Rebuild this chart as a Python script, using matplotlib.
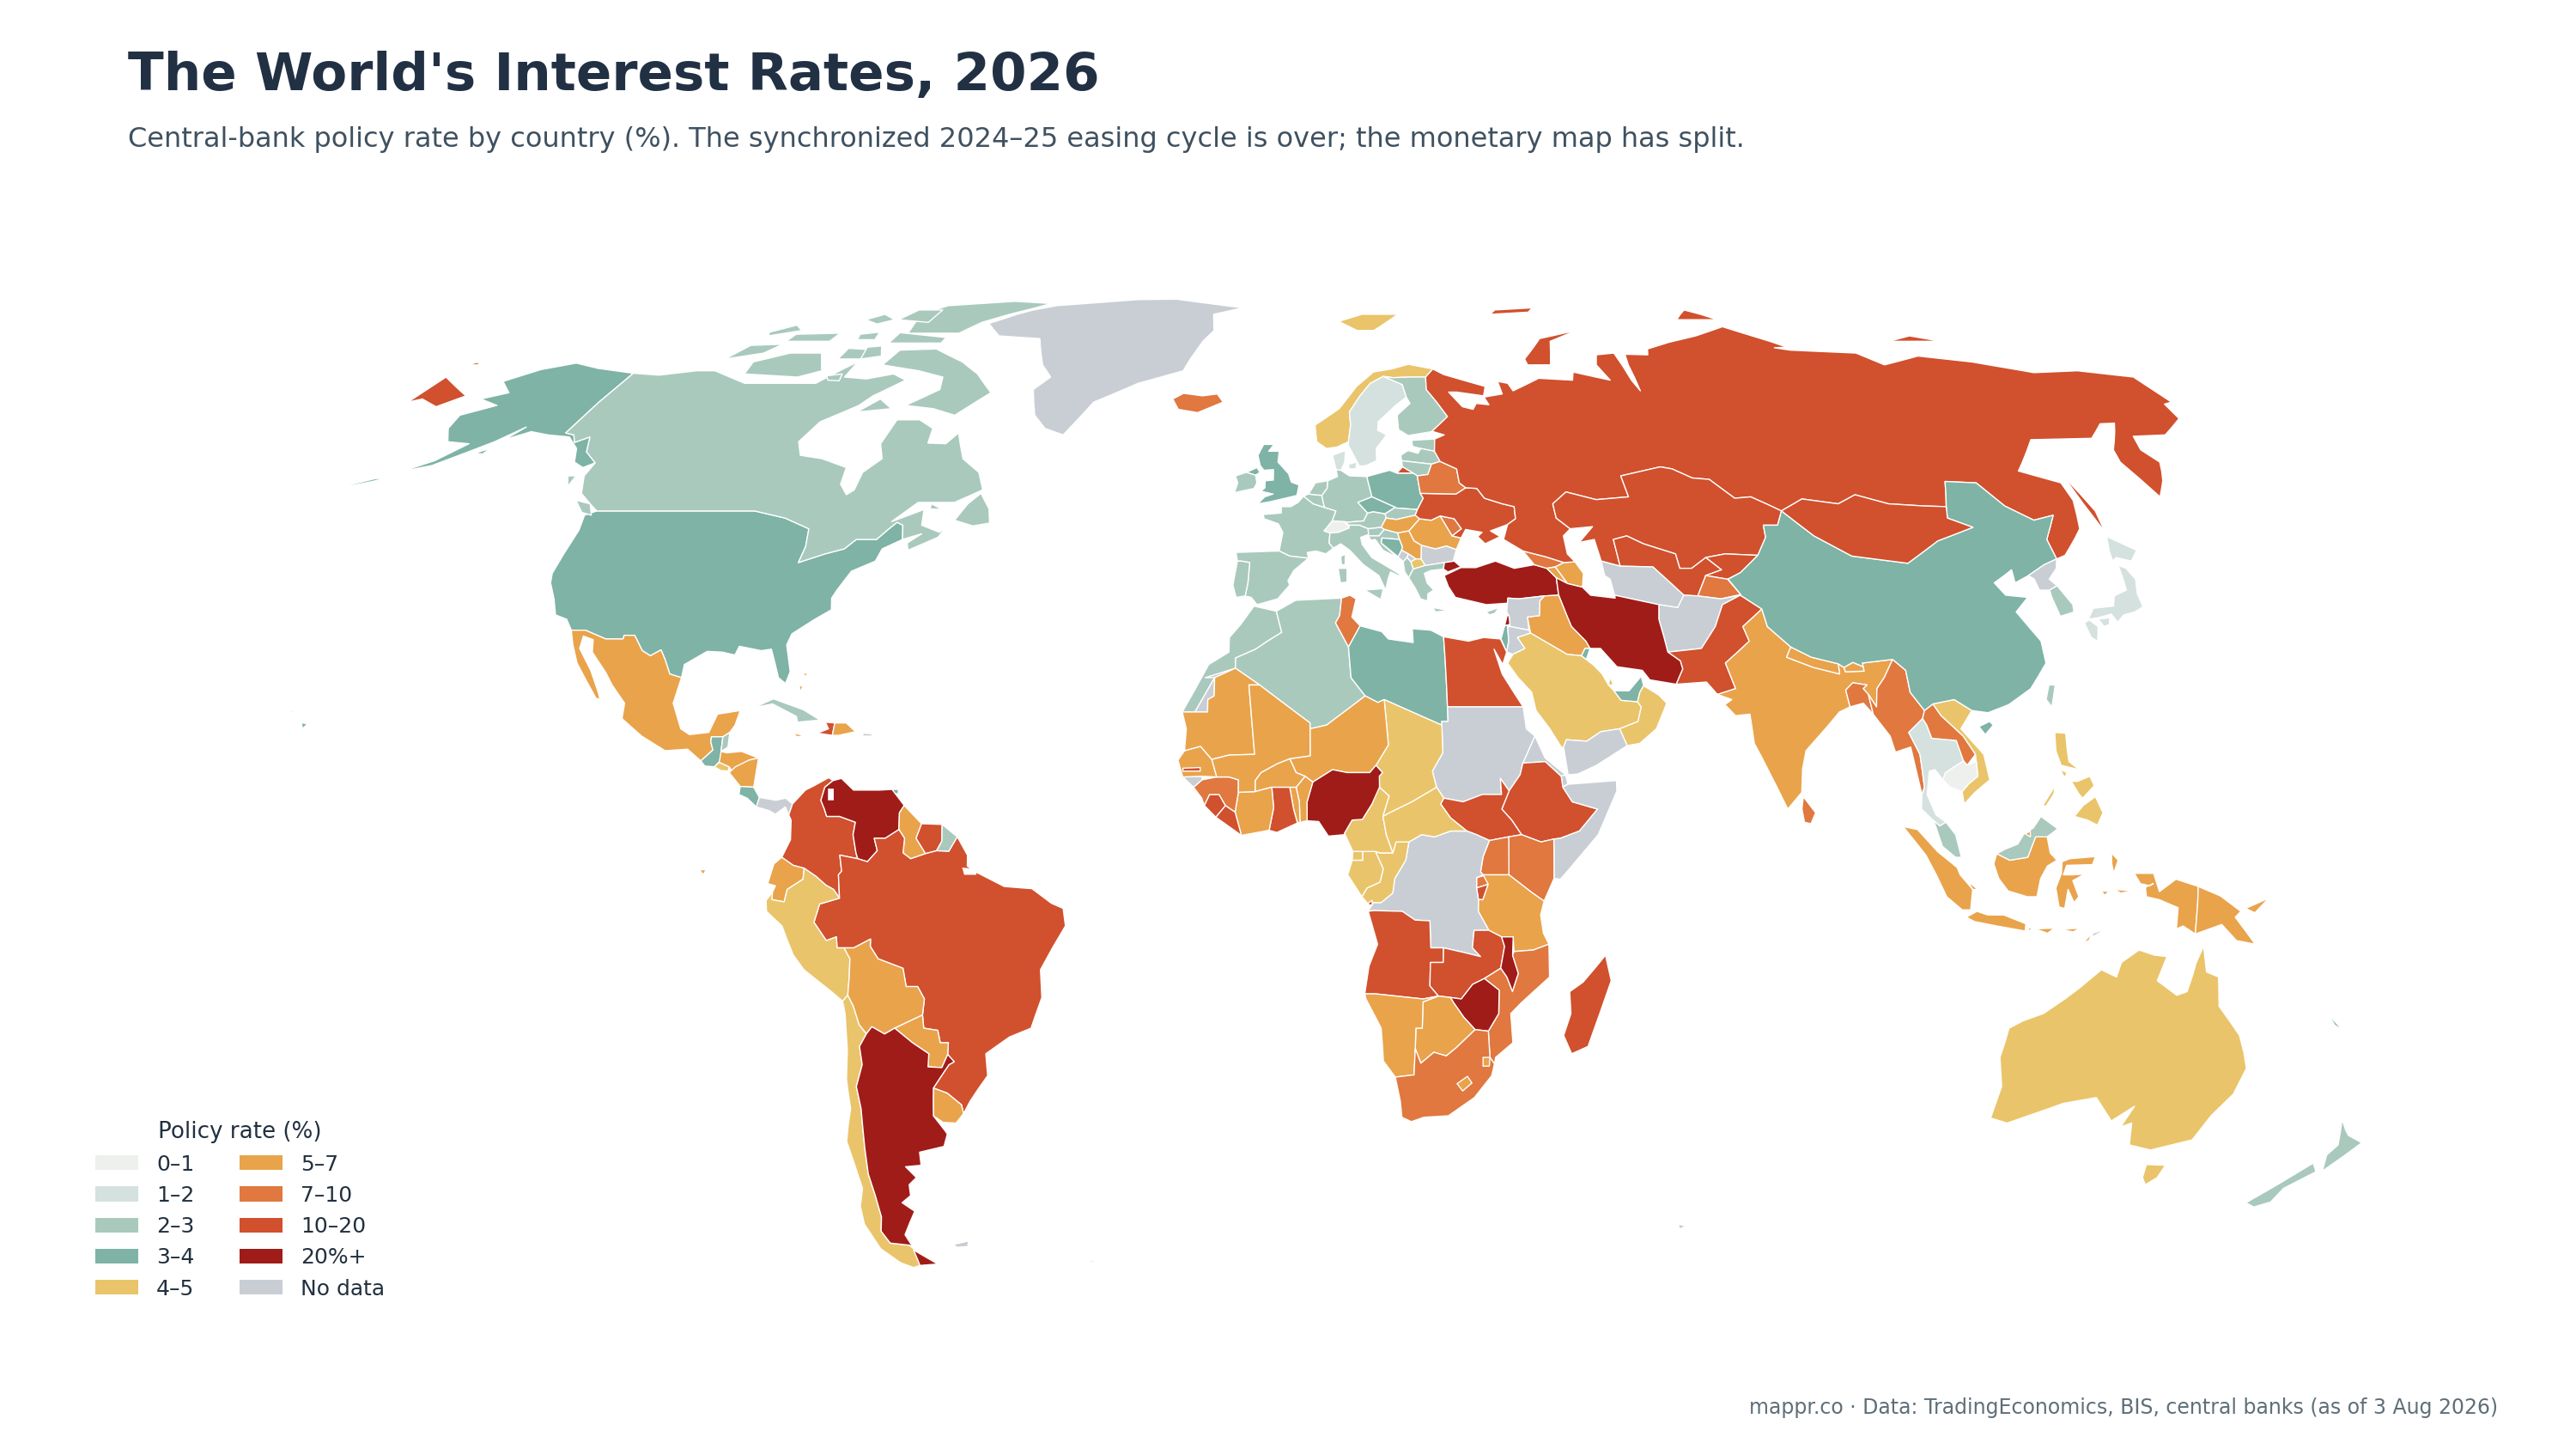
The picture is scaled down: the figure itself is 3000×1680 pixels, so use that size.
import numpy as np
import matplotlib
matplotlib.use("Agg")
import matplotlib.pyplot as plt
from matplotlib.patches import Patch

TITLE = "The World's Interest Rates, 2026"
SUBTITLE = "Central-bank policy rate by country (%). The synchronized 2024–25 easing cycle is over; the monetary map has split."
FOOTER = "mappr.co · Data: TradingEconomics, BIS, central banks (as of 3 Aug 2026)"
LEGEND_TITLE = "Policy rate (%)"
BIN_LABELS = ["0–1", "1–2", "2–3", "3–4", "4–5", "5–7", "7–10", "10–20", "20%+", "No data"]
BIN_COLORS = ["#eef0ed", "#d4e1de", "#a9c9bd", "#7eb3a6", "#eac46a", "#e9a34b", "#e0783f", "#d1502d", "#a01c18", "#c8ced4"]

BIN_0_1 = ["Switzerland", "Cambodia"]
BIN_1_2 = ["Sweden", "Denmark", "Thailand", "Japan"]
BIN_2_3 = ["Canada", "France", "Germany", "Spain", "Portugal", "Belgium", "Netherlands", "Austria", "Slovakia",
           "Slovenia", "Croatia", "Greece", "Finland", "Estonia", "Latvia", "Lithuania", "Ireland", "Cyprus", "Italy",
           "Albania", "Algeria", "Morocco", "Taiwan", "South Korea", "Malaysia", "Belize", "Cuba", "New Zealand",
           "French Guiana"]
BIN_3_4 = ["USA", "China", "UK", "Poland", "Czechia", "Libya", "Bosnia", "Guatemala", "Costa Rica", "Trinidad",
           "UAE", "Kuwait", "Israel", "New Caledonia"]
BIN_4_5 = ["Norway", "Saudi Arabia", "Oman", "Qatar", "Chad", "Cameroon", "CAR", "Gabon", "Congo", "Eq Guinea", "Peru",
           "Chile", "Vietnam", "Philippines", "Australia", "North Macedonia", "El Salvador"]
BIN_5_7 = ["Mexico", "Honduras", "Nicaragua", "Dominican Rep", "Jamaica", "Bahamas", "Guyana", "Ecuador", "Bolivia",
           "Paraguay", "Uruguay", "Mauritania", "Mali", "Niger", "Burkina Faso", "Senegal", "Ivory Coast", "Togo",
           "Benin", "Tanzania", "Namibia", "Botswana", "India", "Nepal", "Bhutan", "Indonesia", "PNG", "Hungary",
           "Romania", "Serbia", "Iraq", "Armenia", "Azerbaijan", "Lesotho", "Eswatini", "Brunei"]
BIN_7_10 = ["Iceland", "Belarus", "Moldova", "Georgia", "Tunisia", "South Africa", "Mozambique", "Uganda", "Kenya",
            "Rwanda", "Guinea", "Myanmar", "Laos", "Bangladesh", "Sri Lanka", "Tajikistan"]
BIN_10_20 = ["Russia", "Ukraine", "Kazakhstan", "Uzbekistan", "Kyrgyzstan", "Pakistan", "Egypt", "South Sudan", "Ethiopia",
             "Ghana", "Sierra Leone", "Liberia", "Angola", "Zambia", "Madagascar", "Colombia", "Brazil", "Haiti",
             "Suriname", "Burundi", "Mongolia", "Gambia"]
BIN_20_PLUS = ["Turkey", "Iran", "Nigeria", "Venezuela", "Argentina", "Zimbabwe", "Malawi", "Lebanon"]
BIN_NO_DATA = ["Greenland", "Sudan", "Eritrea", "Djibouti", "Somalia", "DRC", "Yemen", "Syria", "Jordan", "Afghanistan",
               "Turkmenistan", "Bulgaria", "Kosovo", "Montenegro", "North Korea", "Panama", "Western Sahara",
               "Guinea-Bissau", "Puerto Rico", "Falklands", "Timor-Leste", "South Georgia", "Kerguelen"]
BINS = [BIN_0_1, BIN_1_2, BIN_2_3, BIN_3_4, BIN_4_5, BIN_5_7, BIN_7_10, BIN_10_20, BIN_20_PLUS, BIN_NO_DATA]

# Country outlines, lon,lat pairs read by eye
SHAPES = {
"USA": ["-124.7,48.4 -123,49 -95,49 -89,48 -84,46.5 -83.3,44 -83.5,41.8 -79.5,43 -76.5,43.7 -75,45 -71.5,45 -70,46.5 -69,47.4 -67.8,47 -67,45 -70,43.7 -70.5,42 -74,40.6 -75.5,38 -76,36.9 -75.5,35.3 -78,33.9 -81,32 -81.4,30.5 -80,26.8 -80.4,25.2 -81.7,26 -82.7,28 -83.7,29.9 -85.3,29.7 -89,30.3 -89.4,29.1 -91.5,29.5 -94,29.6 -97.2,27.8 -97.2,26 -99.2,26.5 -100.5,28.5 -101.5,29.8 -103,29 -104.5,29.7 -106.5,31.8 -108.2,31.8 -108.2,31.3 -111,31.3 -114.8,32.5 -117.1,32.5 -118.5,34 -120.6,34.6 -122,36.8 -123.8,39 -124.3,40.3 -124.2,43 -124,46.3",
 "-141,69.6 -141,60.3 -139,60 -137.5,58.9 -135.5,59.7 -133.5,57.5 -130,55.9 -131.5,55.2 -134,56 -136,58 -139.5,59.7 -144,60 -148,60.5 -151.5,59.3 -150,61.2 -153,59 -156,57.5 -160,55.5 -164.5,54.6 -160.5,56.2 -157.5,58.7 -162,59 -165,61 -166,63 -161,64.5 -166,65.5 -162,66.5 -166.5,68.3 -162,70.2 -156.5,71.3 -150,70.4",
 "-156,19.8 -155,19.7 -155.6,19", "-158.2,21.6 -157.7,21.4 -158,21.2", "-173,52.2 -168,53.2 -166,53.7 -168,53.6 -172,52.6", "-178,51.7 -174,52 -172,52.3 -176,51.9", "-154.5,57.3 -152.5,58 -152.8,57.2"],
"Canada": ["-141,69.6 -135,69.3 -128,70 -124,70 -115,68 -108,68 -100,68 -95,71.5 -95,69 -90,68.7 -85,69.5 -81.5,68.5 -86,66 -87.5,64.5 -93,62 -94.5,59 -92.5,57 -88,56.5 -82.5,55.2 -82,52.8 -80,51.3 -79,52 -79,54.5 -76.7,56.5 -78.5,58.7 -78,62.3 -73.5,62.3 -70,61 -69.5,58.8 -66,58.7 -64.5,60.3 -61.5,56.5 -57.5,54.5 -55.7,52 -60,50.2 -66.5,50.2 -70,47.5 -65,49.2 -64.5,47 -61,46 -60,46.8 -61,45.3 -65.5,43.5 -66,44.5 -64,45.8 -67,45 -67.8,47 -69,47.4 -70,46.5 -71.5,45 -75,45 -76.5,43.7 -79.5,43 -83.5,41.8 -83.3,44 -84,46.5 -89,48 -95,49 -123,49 -125,50 -128,51.5 -130,54 -130,55.9 -133.5,57.5 -135.5,59.7 -137.5,58.9 -139,60 -141,60.3",
 "-62,66.5 -67,63 -72,64 -78,64.5 -73,67 -74,69 -80,70 -89,71 -88,73.5 -80,73.7 -72,71.5 -67,69.5", "-117,69.5 -105,69 -101,70 -105,73 -112,73 -118,71.5",
 "-125,72 -118,73 -116,74.5 -123,74.3", "-90,76.5 -78,76.5 -75,78.5 -65,81.5 -62,82.5 -72,83 -88,82 -92,80", "-92,74.7 -80,74.7 -80,75.7 -92,76.6",
 "-96,79 -88,78.5 -88,81 -94,81", "-116,75 -106,75 -106,76.5 -116,76.3", "-59,47.7 -55.5,46.9 -52.7,47.3 -53.5,49.3 -55.8,51.5 -57.5,50",
 "-87,63.5 -80.5,64 -84,65.5", "-100,73.8 -93,73.5 -95,72 -100,72", "-128,50.5 -125,50 -123.5,48.4 -125.5,48.8", "-122,76 -116,77 -119,78 -123,76.7",
 "-104,79 -100,78.2 -97,79 -101,80", "-133,54 -131.5,54 -131.5,52.5", "-96,74 -93,74.2 -91,72.5 -95,72", "-101,76.3 -97,76.7 -96,75.3 -100,75.3", "-99,69.2 -96,69.5 -95.5,68.4 -98,68.5", "-64,50 -61.8,49.2 -64,49.3"],
"Greenland": ["-73,78.3 -68,76 -58,75.5 -54,71 -51,69 -53.5,67 -51,63 -48,61 -44,60 -42,62.5 -40,65 -32,68 -23,70 -22,72 -20,75 -18,77 -19,80 -12,81.5 -30,83.5 -40,83.4 -60,82 -65,81 -68,80"],
"Mexico": ["-117.1,32.5 -114.8,32.5 -111,31.3 -108.2,31.3 -108.2,31.8 -106.5,31.8 -104.5,29.7 -103,29 -101.5,29.8 -100.5,28.5 -99.2,26.5 -97.2,26 -97.8,22.5 -96,19 -94.5,18.2 -91.5,18.5 -90.5,21 -87,21.5 -87.5,19.5 -88.2,18.5 -89.2,17.9 -91,17.9 -91,17.2 -90.5,16.1 -92.2,14.6 -94.5,16.2 -98,16 -102,18 -105.5,20.4 -105.5,22.5 -108,25 -109.5,26.7 -112.5,29.5 -113,31.2 -114.8,31.7 -114.7,30 -112,27 -110,24 -109.5,23 -110.2,23.2 -112.2,25.5 -114.5,28 -116,30.5"],
"Guatemala": ["-92.2,14.6 -90.5,16.1 -91,17.2 -91,17.9 -89.2,17.9 -89.2,15.9 -88.3,15.7 -89.3,14.5 -90,13.8 -91.5,13.9"],
"Belize": ["-89.2,17.9 -88.2,18.5 -88.2,16.5 -89.2,15.9"],
"El Salvador": ["-90,13.8 -89.3,14.4 -87.7,13.8 -87.8,13.2 -89,13.3"],
"Honduras": ["-89.2,15.9 -88.3,15.7 -86,15.9 -83.2,15 -84.7,14.7 -87,13 -87.7,13.8 -89.3,14.4"],
"Nicaragua": ["-87.6,13 -86.7,13.8 -84.7,14.7 -83.2,15 -83.6,11 -85.7,11.1"],
"Costa Rica": ["-85.7,11.1 -83.6,11 -82.6,9.6 -83,8.3 -84.5,9.5 -85.8,10"],
"Panama": ["-83,8.3 -82.6,9.6 -80,9.2 -78.5,9.5 -77.4,8.7 -77.9,7.2 -78.5,8.3 -80,7.3 -81,7.8 -81.8,8"],
"Cuba": ["-84.9,21.9 -82,23.1 -77,21.6 -74.2,20.2 -77.7,19.9 -78,20.7 -82,22.4"],
"Haiti": ["-74.4,18.4 -72,18.1 -71.8,19.8 -73.3,19.9 -72.7,19"],
"Dominican Rep": ["-71.8,19.8 -70,19.8 -68.4,18.6 -71,18.1 -72,18.1"],
"Jamaica": ["-78.3,18.4 -76.3,18.1 -77.5,17.9"], "Puerto Rico": ["-67.2,18.4 -65.7,18.3 -65.8,18 -67.2,18"],
"Bahamas": ["-78,26.7 -77,26.5 -77.5,26.2", "-78.2,25 -77.6,24.8 -77.8,24"], "Trinidad": ["-61.9,10.7 -61,10.7 -61,10.1 -61.9,10.1"],
"Colombia": ["-77.4,8.7 -75.5,10.6 -74.2,11.2 -72,12.3 -71.3,11.9 -72.5,11 -73,9.2 -72.4,8 -72,7 -70,7 -67.5,6.2 -67.8,4.5 -67.3,2 -67,1.2 -69.8,1.7 -69.5,-0.5 -70,-1 -69.9,-4.2 -70.8,-3 -72,-2.4 -73.5,-1.2 -75.3,-0.1 -77,0.3 -78.8,1.4 -77.5,3.8 -77.5,6.5 -77.9,7.2"],
"Venezuela": ["-71.3,11.9 -70,12.2 -68,10.6 -64,10.6 -62,10.7 -60,8.5 -60.7,7.5 -60.7,5.2 -62.8,4 -64.5,4 -64,2.3 -65.5,0.8 -67,1.2 -67.3,2 -67.8,4.5 -67.5,6.2 -70,7 -72,7 -72.4,8 -73,9.2 -72.5,11"],
"Guyana": ["-60,8.5 -57.2,6 -58,4 -56.5,1.9 -58.8,1.2 -60,2 -59.8,4 -60.7,5.2 -60.7,7.5"],
"Suriname": ["-57.2,6 -54,5.9 -54,3.6 -54.8,2.3 -56.5,1.9 -58,4"],
"French Guiana": ["-54,5.9 -51.6,4.2 -52.9,2.2 -54.8,2.3 -54,3.6"],
"Brazil": ["-51.6,4.2 -50,1.7 -50,0.2 -48.5,-0.7 -44.3,-2.6 -40,-2.9 -37,-4.9 -35.2,-5.6 -34.9,-8 -37,-11 -39,-14 -39,-17.8 -41,-22 -44.5,-23.2 -48.5,-25.5 -48.6,-28.5 -52,-32 -53.4,-33.7 -53.5,-32.5 -55.5,-30.9 -57.6,-30.2 -54.6,-27 -53.7,-26.6 -54.6,-25.6 -54.3,-24 -55.6,-24 -55.8,-22.3 -58,-22 -58,-20.2 -57.5,-18 -58.4,-16.3 -60.2,-16.3 -60.5,-13.8 -64.3,-12.5 -65.4,-10.8 -65.3,-9.8 -68,-11 -69.5,-11 -70.6,-11 -70.6,-9.5 -72.2,-10 -74,-7.5 -73,-5 -69.9,-4.2 -70,-1 -69.5,-0.5 -69.8,1.7 -67,1.2 -65.5,0.8 -64,2.3 -64.5,4 -62.8,4 -60.7,5.2 -59.8,4 -60,2 -58.8,1.2 -56.5,1.9 -54.8,2.3 -52.9,2.2"],
"Ecuador": ["-80,0.5 -78.8,1.4 -77,0.3 -75.3,-0.1 -75.5,-1.6 -78,-3 -78.5,-4.7 -80.4,-4.4 -80.3,-3.4 -79.8,-2.5 -81,-2.2", "-91.5,-0.3 -90.5,-0.3 -91,-1"],
"Peru": ["-80.3,-3.4 -80.4,-4.4 -78.5,-4.7 -78,-3 -75.5,-1.6 -75.3,-0.1 -73.5,-1.2 -72,-2.4 -70.8,-3 -69.9,-4.2 -73,-5 -74,-7.5 -72.2,-10 -70.6,-9.5 -70.6,-11 -69.5,-11 -68.7,-12.5 -69,-15 -69.5,-17.5 -70.4,-18.3 -72,-17 -76,-14 -77.5,-12 -79,-8 -81.3,-6 -81.3,-4.5"],
"Bolivia": ["-69.5,-11 -68,-11 -65.3,-9.8 -65.4,-10.8 -64.3,-12.5 -60.5,-13.8 -60.2,-16.3 -58.4,-16.3 -57.5,-18 -58,-20.2 -62.6,-22 -64.3,-22.8 -66.2,-21.8 -67.2,-22.8 -68.2,-21.5 -68.8,-19 -69.5,-17.5 -69,-15 -68.7,-12.5"],
"Paraguay": ["-58,-20.2 -58,-22 -55.8,-22.3 -55.6,-24 -54.3,-24 -54.6,-25.6 -55.8,-27.4 -58,-27.3 -57.6,-25.5 -60,-24 -62.6,-22"],
"Uruguay": ["-57.6,-30.2 -55.5,-30.9 -53.5,-32.5 -53.4,-33.7 -54.9,-35 -57,-34.9 -58.4,-34 -58,-32"],
"Chile": ["-70.4,-18.3 -69.5,-17.5 -68.8,-19 -68.2,-21.5 -67.2,-22.8 -68.5,-24.5 -68.5,-27 -70,-30 -70,-33 -70.5,-36 -71,-38.5 -71.7,-42 -71.7,-45 -72,-48 -73,-50 -72.3,-51.7 -69,-52 -68.5,-52.5 -68.6,-54.9 -70,-55.2 -72,-54.5 -74.5,-52.5 -75.5,-49 -75,-46.5 -73.5,-44 -73.5,-40 -73.7,-37.5 -71.7,-33 -71.4,-29 -70.5,-25 -70.2,-20"],
"Argentina": ["-66.2,-21.8 -64.3,-22.8 -62.6,-22 -60,-24 -57.6,-25.5 -58,-27.3 -55.8,-27.4 -54.6,-25.6 -53.7,-26.6 -54.6,-27 -57.6,-30.2 -58,-32 -58.4,-34 -57,-36 -56.7,-36.5 -57.7,-38.2 -62,-39 -62.3,-40.8 -65,-41 -63.7,-42.5 -65.3,-43.5 -65.6,-45 -67.5,-46 -65.8,-47.2 -69,-50.5 -68.5,-52.3 -69,-52 -72.3,-51.7 -73,-50 -72,-48 -71.7,-45 -71.7,-42 -71,-38.5 -70.5,-36 -70,-33 -70,-30 -68.5,-27 -68.5,-24.5 -67.2,-22.8", "-68.6,-52.7 -65.2,-54.7 -68.6,-54.9"],
"Falklands": ["-61,-51.9 -58,-51.4 -58.5,-52.2 -60.5,-52.3"], "South Georgia": ["-38,-54 -36,-54.3 -36.5,-54.5"], "Kerguelen": ["69,-49 70.5,-49.3 69.5,-49.7"],
"Iceland": ["-24,65.5 -22,66.4 -18,66 -15,66.3 -13.6,65 -18.5,63.4 -22.5,63.9"],
"UK": ["-5.7,50 -3.5,50.3 1.3,51.2 1.7,52.7 0.3,53.1 -0.2,54.3 -1.6,55.5 -2.2,56 -2,57.6 -4,57.6 -3,58.6 -5,58.6 -6,57 -5.5,55.5 -4.8,54.8 -3,54.9 -3,53.4 -4.5,53.3 -4.5,52.3 -5.2,51.8 -3,51.4 -4.5,51", "-8,54.5 -6.1,55.2 -5.5,54.5 -6.3,54.1"],
"Ireland": ["-10,54 -8,54.5 -6.3,54.1 -6,53 -6.5,52.2 -10,51.6 -9.5,53"],
"France": ["2.5,51.1 1.5,50.2 0.2,49.6 -1.5,49.6 -1.5,48.7 -4.7,48.5 -4.5,47.9 -2,47.2 -1.2,46 -1.8,43.4 0,42.7 3.2,42.4 3,43.2 4.5,43.4 6.2,43 7.5,43.8 6.8,44.5 7,45.9 6,46.2 7.5,47.6 8.2,49 6.2,49.5 4.2,50", "8.7,42.6 9.5,43 9.4,41.5 8.8,41.5"],
"Spain": ["-9.2,43.2 -1.8,43.4 0,42.7 3.2,42.4 0.7,40.7 -0.3,39.3 0,38.7 -2,36.8 -5.4,36 -6.4,37 -7.4,37.2 -7,39 -6.8,41.8 -8.2,42 -8.9,42"],
"Portugal": ["-8.9,42 -8.2,42 -6.8,41.8 -7,39 -7.4,37.2 -8.9,37 -9.5,38.7"],
"Belgium": ["2.5,51.1 3.4,51.4 5.8,51.2 6,50.2 6.2,49.5 4.2,50"],
"Netherlands": ["3.4,51.4 4.7,53 7,53.3 6.8,52.2 5.8,51.2"],
"Germany": ["6.2,49.5 8.2,49 7.5,47.6 10,47.4 13,47.6 13.8,48.7 12.2,50.2 14.8,51 14.2,53.9 11,54 9.5,54.8 8.6,54.9 8.8,53.9 7,53.3 6.8,52.2 5.8,51.2 6,50.2"],
"Switzerland": ["6,46.2 7,45.9 8.5,46 10.4,46.6 9.6,47.5 7.5,47.6"],
"Austria": ["9.6,47.5 10.4,47 12.2,47 13.7,46.5 16,46.7 17,48 16.9,48.6 14.8,48.9 13.8,48.7 13,47.6 10,47.4"],
"Italy": ["7.5,43.8 8.8,44.4 10.3,43.5 12.5,41.5 15,40 16,38 16.5,39.5 17,40.5 18.5,39.9 18.5,40.2 16,41.5 14,42.5 12.5,44.3 12.3,45.3 13.7,45.7 13.7,46.5 12.2,47 10.4,47 10.4,46.6 8.5,46 7,45.9 6.8,44.5", "12.5,38 15.6,38.2 15.1,36.7", "8.2,41 9.7,41 9.6,39.1 8.5,39"],
"Denmark": ["8.1,57 10.6,57.7 10.3,56 9.5,54.8 8.6,54.9", "11,55.7 12.6,56 12.3,55 11,55"],
"Norway": ["5,61.5 10,64 14,67.5 18,69.8 22,70.3 26,71.1 31,70.3 29,69 25.7,69 22,68.9 20,69.1 17,68 14.5,66 13,64.5 12,63.5 12,61.5 11.3,59 9,58.2 7,58 5.2,59", "12,78.7 18,80 27,80 20,77 16,77"],
"Sweden": ["11.3,59 12,61.5 12,63.5 13,64.5 14.5,66 17,68 20,69.1 23.7,67.8 24,65.8 21.5,64.5 17.5,62 17.2,60.7 18.8,60 16.5,58 16.3,56.2 14.3,55.5 13,55.4 11.2,58.5"],
"Finland": ["23.7,67.8 20,69.1 22,68.9 25.7,69 29,69 28.5,67 30,65 31.5,62.8 27.7,60.5 23,59.9 21.3,60.8 21.5,63 24.5,64.8 24,65.8"],
"Estonia": ["23.5,59.2 28,59.4 27.5,57.6 25,58 23.5,58.3"],
"Latvia": ["21,57 22.5,57.7 24.3,57.3 25,58 27.5,57.6 28.2,56.1 26.5,55.7 21,56.2"],
"Lithuania": ["21,56.2 26.5,55.7 25.5,54.2 23.5,54 22.8,54.4 21,55.3"],
"Poland": ["14.2,53.9 18.5,54.8 19.8,54.4 22.8,54.4 23.5,54 23.6,51.5 24,50.8 22.7,49.2 19,49.4 18.8,49.5 14.8,51"],
"Czechia": ["12.2,50.2 13.8,48.7 14.8,48.9 16.9,48.6 18.8,49.5 14.8,51"],
"Slovakia": ["16.9,48.6 17,48 18.8,47.8 22.2,48.4 22.7,49.2 19,49.4 18.8,49.5"],
"Hungary": ["16,46.7 17,48 18.8,47.8 22.2,48.4 22.9,47.9 20.8,46.2 18.8,45.9 16.5,46.4"],
"Slovenia": ["13.7,46.5 16,46.7 16.5,46.4 15.5,45.5 13.7,45.5"],
"Croatia": ["13.7,45.5 15.5,45.5 16.5,46.4 18.8,45.9 19,45 16,45.2 15.8,44.5 18.4,42.5 16,43.5 14.8,45 14,44.9"],
"Bosnia": ["16,45.2 19,45 19.4,44 19.2,43.5 18.5,42.6 15.8,44.5"],
"Serbia": ["18.8,45.9 20.8,46.2 21.5,44.8 22.7,44.2 22.4,42.3 21.5,42.3 21,42.6 20.3,43 19.2,43.5 19.4,44 19,45"],
"Kosovo": ["20.3,43 21,42.6 21.5,42.3 20.6,41.9 20,42.5"],
"Montenegro": ["19.2,43.5 20.3,43 20,42.5 19.3,41.9 18.5,42.6"],
"North Macedonia": ["20.6,41.9 21.5,42.3 22.4,42.3 23,41.4 20.9,40.9"],
"Albania": ["19.3,41.9 20,42.5 20.6,41.9 20.9,40.9 20,39.7 19.4,40.5"],
"Bulgaria": ["22.4,42.3 22.7,44.2 25,43.7 27,44.1 28.6,43.6 27.8,42 26.3,41.8 24,41.5 23,41.4"],
"Romania": ["20.8,46.2 22.9,47.9 24.9,47.7 26.6,48.3 28.2,45.5 29.7,45.2 28.6,43.6 27,44.1 25,43.7 22.7,44.2 21.5,44.8"],
"Moldova": ["26.6,48.3 29,47.9 30,46.5 28.2,45.5"],
"Greece": ["20,39.7 20.9,40.9 23,41.4 26.3,41.8 26,40.9 23.8,40.7 22.7,40.3 23,39 24,38 23,37.5 22.8,36.5 21.7,36.8 21,38.2", "23.6,35.6 26.2,35.2 24,35"],
"Turkey": ["26,40 29,41.1 31.5,41.1 35,42 38,41 41.5,41.5 43.5,41 44.8,39.7 44.7,37.3 42.3,37.2 38,36.8 36.2,36.9 36,36.2 32.5,36 30.5,36.4 27.5,37 26.5,38.5", "26.3,41.8 28,42 29,41.2 26.7,40.5 26,40.9"],
"Cyprus": ["32.3,35 34.5,35.6 33.7,34.8 32.8,34.6"],
"Ukraine": ["22.7,49.2 24,50.8 23.6,51.5 30,51.4 32,52.3 34,52.2 35,50.8 38,50 40,49.6 39.8,47.9 38.2,47.1 35,46.2 36.5,45.4 35.4,45 33.7,44.4 32.6,45.4 33.5,46 30.7,46.4 29.7,45.2 28.2,45.5 30,46.5 29,47.9 26.6,48.3 24.9,47.7 22.9,47.9 22.2,48.4"],
"Belarus": ["23.6,51.5 23.5,54 25.5,54.2 26.5,55.7 28.2,56.1 31,55 31,53 32,52.3 30,51.4"],
"Georgia": ["40,43.4 43.7,42.6 46.6,41.8 45,41.2 43.5,41 41.5,41.5"],
"Armenia": ["43.5,41 45,41.2 46.5,38.9 44.8,39.7"],
"Azerbaijan": ["46.6,41.8 48.5,41.9 49.5,40.3 48.9,38.4 46.5,38.9 45,41.2"],
"Russia": ["28,59.4 30,60 28,60.5 27.7,60.5 31.5,62.8 30,65 28.5,67 29,69 31,70.3 33,69.4 41,67.5 40,66 34.7,66.6 33,66.6 35,64.3 37,63.9 38,64.8 40.5,64.6 40,65.8 44,66.3 44,68.3 46,68 46.5,66.8 53,68.8 60,68.5 61,69.8 68,68.5 67,71 68.5,72.7 72.7,73 72.5,68.5 73,66.8 74,71 75,72.8 80,72.7 81,73.7 87,74.8 95,76 104,77.7 113,74 110,73.9 113,73.5 127,73 130,71 140,72.5 150,71.5 160,69.7 170,70 180,69 180,65 178,64.7 177,62.5 170,60 163.5,59.8 162,57.8 163,56 160,53.3 156.7,51 155.6,56 156.8,57.8 163,61.8 160,61.7 155,59.5 143,59.3 135,54.7 141,53 140.5,50.5 138,46.5 132.5,42.8 130.7,42.3 131,45 135,48.4 131,47.7 127.5,49.7 125.5,53 120,53.2 117,49.6 113,49.7 107,50 102,51.3 98,50 92,50.7 87.8,49.2 87.3,49 83,51 80,50.8 77,53.5 74,53.7 71,55 69,55.3 61,54 61,51 55,50.6 50,51.7 47,50 47,48 49,46.5 47.5,45.5 47.5,43 48.5,41.9 46.6,41.8 43.7,42.6 40,43.4 37,45 38.2,47.1 39.8,47.9 40,49.6 38,50 35,50.8 34,52.2 32,52.3 31,53 31,55 28.2,56.1 27.5,57.6",
 "19.8,54.4 22.8,54.4 21,55.3", "-180,69 -175,67.5 -170,66 -173,64.3 -178,65.5 -180,65", "-180,71 -178,71.5 -177.5,71", "142.5,54 143,49 142,46 141.8,50", "52,71 57,71 60,75 68,77 58,75.5 52,72",
 "95,79 105,79 100,81", "138,75 150,75 145,76", "50,80 60,80.5 62,81.5 52,81"],
"Kazakhstan": ["47,50 50,51.7 55,50.6 61,51 61,54 69,55.3 71,55 74,53.7 77,53.5 80,50.8 83,51 87.3,49 85.5,47 83,47 82.5,45.3 80,42.8 74.5,43 71,42.5 68,41 66,41 66,43 61,44.4 58.5,45.5 56,45 56,41.3 53,42 52.7,45 50,44.6 53,46.8 49,46.5 47,48"],
"Uzbekistan": ["56,45 58.5,45.5 61,44.4 66,43 66,41 68,41 71,42.5 73,40.8 70,40 67.8,37.2 65.5,37.3 61.5,41.2 56,41.3"],
"Turkmenistan": ["53,42 56,41.3 61.5,41.2 65.5,37.3 64,35.6 61,36 54,37.3 53.8,39.5 53,40"],
"Kyrgyzstan": ["71,42.5 74.5,43 80,42.8 76,40.4 73.5,39.5 70,40 73,40.8"],
"Tajikistan": ["67.8,37.2 70,40 73.5,39.5 75,37.4 71.5,36.8"],
"Afghanistan": ["61,36 64,35.6 65.5,37.3 67.8,37.2 71.5,36.8 74.9,37.3 71.5,36 69.5,33 66.5,30 61,29.5 60.8,31.5 60.5,34"],
"Pakistan": ["61,29.5 66.5,30 69.5,33 71.5,36 74.9,37.3 77.8,35.4 74,33 74.5,31 70,28 71,24.5 68,23.7 66.5,25.4 61.6,25.1 63,27.2 62.8,28.3"],
"Iran": ["44.8,39.7 46.5,38.9 48.9,38.4 50,37.3 54,36.9 54,37.3 61,36 60.5,34 60.8,31.5 61,29.5 62.8,28.3 63,27.2 61.6,25.1 57.5,25.7 56.5,27 52.5,27.5 50.2,30 48.5,30 48,31 46,33 45.5,34.5 44.7,37.3"],
"Iraq": ["44.7,37.3 45.5,34.5 46,33 48,31 48.5,30 47.7,30 47,29 44.7,29.2 39.2,32.1 39,34.3 41,34.5 41.4,36.5 42.3,37.2"],
"Syria": ["36.2,36.9 38,36.8 42.3,37.2 41.4,36.5 41,34.5 39,34.3 39,32.5 36,33 36,34.5 35.7,35"],
"Lebanon": ["35.1,33.1 35.7,34.5 36,34.5 36,33.3 35.6,33.2"],
"Israel": ["34.3,31.3 35.1,33.1 35.6,33.2 35.5,31 35,29.5"],
"Jordan": ["35,29.5 35.5,31 35.6,33 36,33 39,32.5 39.2,32.1 37,31.5 38,30 36,29.2"],
"Saudi Arabia": ["36,29.2 38,30 37,31.5 39.2,32.1 44.7,29.2 47,29 47.7,28.5 48.8,27.7 50,26.5 50.8,25 51.6,24.2 52.6,22.9 55.2,22.7 55.7,22 55,20 52,19 49,18.6 46.7,17.3 43.5,17.5 43,16.5 42.7,16.4 41,19 39,21.5 38.5,24 36.5,26 35,28"],
"Kuwait": ["47,29 47.7,30 48.5,30 48,29 47.7,28.5"], "Qatar": ["50.8,25 51.2,26.1 51.6,25"],
"UAE": ["51.6,24.2 54,24.2 56.2,26.2 56.4,24.9 55.7,24 55.2,22.7 52.6,22.9"],
"Oman": ["55.2,22.7 55.7,24 56.4,24.9 58.7,23.6 59.8,22.5 57.8,19 55,17 53,16.7 52,19 55,20 55.7,22"],
"Yemen": ["43,16.5 43.5,17.5 46.7,17.3 49,18.6 52,19 53,16.7 48,14 45,12.8 43.5,12.7"],
"Morocco": ["-5.9,35.8 -2.2,35.1 -1.3,32.2 -3.6,31 -5.5,29.9 -8.7,28.7 -8.7,27.3 -12,26 -15,21.3 -17,21.3 -15,24.5 -13,27.8 -9.8,29.5 -9.8,31.5 -8,33.3"],
"Western Sahara": ["-8.7,27.3 -12,26 -12,23.5 -13,23 -13,21.3 -15,21.3 -12,26 -13.5,26"],
"Algeria": ["-2.2,35.1 1,36.6 8.6,36.9 8.2,34.5 7.5,33.5 9.5,30.2 9.8,26 12,23.5 5.8,19.5 3.2,19 3.2,19.8 -4.8,25 -8.7,27.3 -8.7,28.7 -5.5,29.9 -3.6,31 -1.3,32.2"],
"Tunisia": ["8.6,36.9 10,37.3 11,36.8 10.2,34.3 11.5,33.1 9.5,30.2 7.5,33.5 8.2,34.5"],
"Libya": ["11.5,33.1 15,32.3 16,31.3 20,30.8 20,32.7 23,32.5 25,31.6 25,20 24,20 24,19.5 15,23 14,22.6 12,23.5 9.8,26 9.5,30.2"],
"Egypt": ["25,31.6 29,31 31.5,31.5 34.2,31.3 35,29.5 34.2,27.8 33,29.9 34,26.5 35.7,23.9 37,22 25,22"],
"Sudan": ["25,22 37,22 37.3,19 38.6,18 36.5,14.3 36,12.7 34.2,10.5 32.9,12.2 33,10 30,10 27,9 24,9.5 22.9,11 22.3,13.2 24,15.7 24,19.5 24,20 25,20"],
"Eritrea": ["38.6,18 40,15 43.1,12.7 42.4,12.5 40,14.5 36.5,14.3"],
"Djibouti": ["43.1,12.7 43.4,11.5 42.6,11 42.4,12.5"],
"Ethiopia": ["36.5,14.3 40,14.5 42.4,12.5 42.6,11 44,9 47.9,8 45,5 42,4 41,3.9 39,3.5 36,4.5 34.5,6.5 33,8 34.2,10.5 36,12.7"],
"Somalia": ["42.6,11 43.4,11.4 51,11.9 51,10.5 47.9,4.5 42,-1.6 41,-1.5 41,3.9 42,4 45,5 47.9,8 44,9"],
"South Sudan": ["24,9.5 27,9 30,10 33,10 32.9,12.2 34.2,10.5 33,8 34.5,6.5 36,4.5 34,4.2 31,3.7 29,4.5 27.5,5 25,6.8 23.5,8.7"],
"Kenya": ["34,4.2 36,4.5 39,3.5 41,3.9 41,-1.5 39.5,-4.6 37.7,-3.5 34,-1 34,1"],
"Uganda": ["31,3.7 34,4.2 34,1 34,-1 30,-1 29.6,-0.6 30,1.5"],
"Rwanda": ["29,-1.4 30.5,-1 30.8,-2.3 29,-2.8"], "Burundi": ["29,-2.8 30.8,-2.3 30,-4.4 29.3,-4.4"],
"Tanzania": ["30,-1 34,-1 37.7,-3.5 39.5,-4.6 39,-6.5 39.5,-9 40.4,-10.5 38,-11.3 35,-11.5 34.8,-9.5 33,-9.5 31,-8.6 29.3,-6 29.3,-4.4 30,-4.4 30.8,-2.3"],
"DRC": ["12.2,-6 13,-4.8 14.2,-4.8 16,-3.5 16.3,-1.5 18,1 18.5,3.5 20.5,4.5 22.5,4.2 25,5 27.5,5 29,4.5 31,3.7 30,1.5 29.6,-0.6 30,-1 29,-1.4 29,-2.8 29.3,-4.4 29.3,-6 31,-8.6 28.7,-8.6 28.5,-11 29.8,-12.2 27.5,-11.7 25.5,-11.3 24,-11 22,-11 21.8,-7.3 19.5,-7.2 17.5,-6 13,-5.9"],
"Congo": ["11.2,-4 12.2,-5 13,-4.8 14.2,-4.8 16,-3.5 16.3,-1.5 18,1 18.5,3.5 16.5,3.5 16,2 14,2 13.3,2.2 14.5,-0.2 14,-2 12,-2.8"],
"Gabon": ["9.7,1 11.3,1 11.3,2.2 13.3,2.2 14.5,-0.2 14,-2 12,-2.8 11.2,-4 9,-1"],
"Eq Guinea": ["9.7,1 11.3,1 11.3,2.2 9.8,2.2"],
"Cameroon": ["8.5,4.7 9.8,2.2 13.3,2.2 14,2 16,2 15,4.5 14.5,7 15.5,9.8 14,11 14.5,13 14,12.5 12.8,8.7 11.3,6.6 9.7,6.5"],
"CAR": ["14.5,7 15,4.5 16,2 16.5,3.5 18.5,3.5 20.5,4.5 22.5,4.2 25,5 27.5,5 25,6.8 23.5,8.7 24,9.5 22.9,11 19,9 15.5,7.5"],
"Chad": ["14,12.5 14.5,13 13.5,14 15.5,16.8 15,23 24,19.5 24,15.7 22.3,13.2 22.9,11 19,9 15.5,7.5 14.5,7 15.5,9.8 14,11"],
"Niger": ["0,14.9 3.2,15.3 3.2,19 5.8,19.5 12,23.5 14,22.6 15,23 15.5,16.8 13.5,14 12.5,13 9,13 6.7,13.4 3.6,11.7 2.4,12.5 1,13"],
"Nigeria": ["2.7,6.4 4.5,6.3 6,4.3 8.5,4.5 8.5,4.7 9.7,6.5 11.3,6.6 12.8,8.7 14,11 14,12.5 14.5,13 13.5,14 12.5,13 9,13 6.7,13.4 3.6,11.7 2.7,9"],
"Benin": ["1.6,6.2 2.7,6.4 2.7,9 3.6,11.7 2.4,12.5 1,11 1.5,9"],
"Togo": ["1.2,6.1 1.6,6.2 1.5,9 1,11 0,11 0.6,8"],
"Ghana": ["-3.2,5.1 -2,4.8 1.2,6.1 0.6,8 0,11 -2.8,11 -2.5,8.2"],
"Burkina Faso": ["-5.4,10.4 -2.8,11 0,11 1,11 2.4,12.5 1,13 0,14.9 -2,14.2 -4.5,13 -5.4,11.9"],
"Ivory Coast": ["-7.5,4.4 -3.2,5.1 -2.5,8.2 -2.8,11 -5.4,10.4 -8,10.3 -8.5,7.6"],
"Liberia": ["-11.5,6.9 -7.5,4.4 -8.5,7.6 -10,8.5"],
"Sierra Leone": ["-13.3,8.5 -11.5,6.9 -10,8.5 -11,10 -12.5,10"],
"Guinea": ["-15,11 -13.7,9.5 -13.3,8.5 -12.5,10 -11,10 -10,8.5 -8.5,7.6 -8,10.3 -8,12 -9.5,12.4 -11.4,12.4 -13.7,12"],
"Guinea-Bissau": ["-16.7,12.4 -13.7,12.5 -13.7,12 -15,11"],
"Senegal": ["-17.5,14.7 -16.5,16 -14,16.6 -12.2,14.8 -11.4,12.4 -13.7,12.5 -16.7,12.4"],
"Gambia": ["-16.7,13.6 -14,13.7 -14,13.2 -16.7,13.2"],
"Mauritania": ["-17,21.3 -13,21.3 -13,23 -12,23.5 -12,26 -8.7,27.3 -4.8,25 -6.5,25 -5.5,15.5 -9.5,15.4 -12.2,14.8 -14,16.6 -16.5,16 -16.3,19"],
"Mali": ["-12.2,14.8 -9.5,15.4 -5.5,15.5 -6.5,25 -4.8,25 3.2,19.8 3.2,15.3 0,14.9 -2,14.2 -4.5,13 -5.4,11.9 -5.4,10.4 -8,10.3 -8,12 -9.5,12.4 -11.4,12.4"],
"Angola": ["12.2,-6 13,-5.9 17.5,-6 19.5,-7.2 21.8,-7.3 22,-11 24,-11 24,-13 22,-13 22,-16.2 23.4,-17.6 21,-18 13.5,-17.3 11.8,-17.3 12.4,-13.5 13.7,-10.5", "12,-5 12.8,-4.5 12.8,-5.2"],
"Zambia": ["22,-13 24,-13 24,-11 25.5,-11.3 27.5,-11.7 29.8,-12.2 28.5,-11 28.7,-8.6 31,-8.6 33,-9.5 33.5,-10.8 33,-13.8 30.5,-15.2 28.7,-16 27,-18 25.3,-17.8 23.4,-17.6 22,-16.2"],
"Malawi": ["33,-9.5 34.8,-9.5 34.8,-12 35.8,-14.5 35,-17 34,-15 33,-13.8 33.5,-10.8"],
"Mozambique": ["35,-11.5 38,-11.3 40.4,-10.5 40.7,-15 36.5,-18.5 34.9,-20 35.5,-24 32.9,-26 32.8,-26.9 32,-26 31.5,-22.4 33,-20 32.9,-16.8 30.5,-15.2 33,-13.8 34,-15 35,-17 35.8,-14.5 34.8,-12"],
"Zimbabwe": ["25.3,-17.8 27,-18 28.7,-16 30.5,-15.2 32.9,-16.8 33,-20 31.5,-22.4 29.4,-22.2 27.5,-20.5 25.8,-18.5"],
"Botswana": ["21,-18.4 23.4,-17.6 25.3,-17.8 25.8,-18.5 27.5,-20.5 29.4,-22.2 26.5,-24.7 25,-25.8 23,-25.3 21,-26.8 20,-24.8 20,-22 21,-22"],
"Namibia": ["11.8,-17.3 13.5,-17.3 21,-18 23.4,-17.6 21,-18.4 21,-22 20,-22 20,-28.4 17,-28.7 15,-26.5 14.5,-22 12,-18"],
"South Africa": ["17,-28.7 20,-28.4 20,-24.8 21,-26.8 23,-25.3 25,-25.8 26.5,-24.7 29.4,-22.2 31.5,-22.4 32,-26 32.8,-26.9 32.5,-28.5 30,-31.5 26,-34 22,-34.2 20,-34.8 18.4,-34.2 18,-32"],
"Lesotho": ["27,-29.6 28.6,-28.6 29.4,-29.5 28,-30.6"], "Eswatini": ["30.9,-26 32,-26 32,-27.2 31,-27.2"],
"Madagascar": ["49.3,-12 50.4,-15.5 47.5,-24.5 45,-25.5 43.5,-23 44.4,-20 44,-17 46,-15.7 48,-13.5"],
"India": ["77.8,35.4 78,33 81,30.2 80,28.8 84,27.4 88,26.5 88.1,27.9 88.9,27.4 89,26.8 92,26.9 92,28 97,28.5 95,26 93.5,24.5 93,22 92,23.7 91.3,24.5 92,25 89.8,25.3 88.5,24.3 88.8,22 87,21.3 85,19.5 81,16 80.2,13.5 79.8,10.3 77.5,8 76,11 73,17 72.8,21 70.5,20.8 69,22.3 70.2,23 68,23.7 71,24.5 70,28 74.5,31 74,33"],
"Nepal": ["80,28.8 81,30.2 84,28.8 88.1,27.9 88,26.5 84,27.4"], "Bhutan": ["89,26.8 88.9,27.4 90.5,28.1 92,27.5 92,26.9"],
"Bangladesh": ["88.5,24.3 89.8,25.3 92,25 91.3,24.5 92,23.7 92.3,21 91,22.5 88.8,22"],
"Myanmar": ["97,28.5 98.7,27 98.7,24 100.5,21.5 100,20.4 97.5,18.5 98.8,15.5 99,11 98.5,10 98,13 97.5,16.5 95,15.8 94.5,18 93,20 92.3,21 92,23.7 93,22 93.5,24.5 95,26"],
"Thailand": ["100,20.4 100.5,19.5 101,17.7 104.8,17.4 105.5,14.6 102.5,13 102,12 100.9,13.4 100,13.2 99.3,10 100.5,7.2 102,6.2 101,5.7 100,6.5 98.3,8 98.5,10 99,11 98.8,15.5 97.5,18.5"],
"Laos": ["100.5,21.5 102,22.4 103,20.8 106,18 107.5,15.5 106,14 105.5,14.6 104.8,17.4 101,17.7 100.5,19.5 100,20.4"],
"Vietnam": ["102,22.4 105.5,23 108,21.5 105.8,19 108.8,15.5 109.3,12 106.8,10.3 105,8.7 104.8,10.4 106,11.5 107.5,12.5 107.5,15.5 106,18 103,20.8"],
"Cambodia": ["105.5,14.6 106,14 107.5,14.5 107.5,12.5 106,11.5 104.8,10.4 103,11 102,12 102.5,13"],
"China": ["73.6,39.5 76,40.4 80,42.8 82.5,45.3 83,47 85.5,47 87.3,49 91,45.5 96,42.7 105,41.7 112,44.8 119.5,46.7 116,48 117,49.6 120,53.2 125.5,53 127.5,49.7 131,47.7 135,48.4 131,45 130.7,42.3 128,41.5 124.3,40 121.5,39 122,40.8 118,39 119,37.3 122.5,37 119.5,35 121.8,31 121.5,28 118,24.5 114,22.3 110.5,21.2 108,21.5 105.5,23 102,22.4 100.5,21.5 98.7,24 98.7,27 97,28.5 92,28 92,27.5 90.5,28.1 88.9,27.4 88.1,27.9 84,28.8 81,30.2 78,33 77.8,35.4 74.9,37.3 75,37.4", "108.7,19.3 110.5,20 111,19.5 109.5,18.2"],
"Taiwan": ["121,25 122,25 120.8,22 120.1,23"],
"Mongolia": ["87.8,49.2 92,50.7 98,50 102,51.3 107,50 113,49.7 117,49.6 116,48 119.5,46.7 112,44.8 105,41.7 96,42.7 91,45.5 87.3,49"],
"North Korea": ["124.3,40 128,41.5 130.7,42.3 129.7,41 127.5,39.5 128.3,38.6 126.7,38 125,38 125,39.5"],
"South Korea": ["126.7,38 128.3,38.6 129.4,36 129,35 126.5,34.4 126.5,37"],
"Japan": ["130.9,34 132.5,35.5 136,35.8 137,37.2 139.5,38 140,39.8 140.5,41.4 141.5,41 142,39.5 141,37.5 140.8,35.7 139,35 137,34.6 135.5,33.6 135,34.7 132.5,34.2", "140,42 140.5,43.3 141.7,45.4 145.3,43.5 143.2,42 141,42.5", "130,33.5 131,33.9 132,33 131,31 130.2,31.5", "132.5,34 134.5,34.2 134,33.3 133,33"],
"Philippines": ["120.5,18.5 122.2,18.4 122,16 122,14.5 124,13 123,13.5 120.7,14 120.2,16", "122,7 123.5,8.5 125.5,9.7 126.5,7.5 125.5,5.8 124,6.5", "122,11.8 123,10 123.5,9.5 125.5,11.2 125,12.5 123,11.8", "117.2,8.5 119.5,11.3 119,10 117.7,8.4", "120.5,13.4 121.5,13 121,12.3"],
"Indonesia": ["95.3,5.6 97.5,5.2 100.5,2.2 103.5,0 104,-1 106,-3 105.8,-5.8 104.5,-5.8 102,-4 100.3,-1 98.7,1.7", "105.2,-6.8 106.8,-6 108.5,-6.5 111,-6.5 114.5,-7.7 114.5,-8.7 110,-8 106.5,-7.4",
 "109.2,0.5 109.7,1.9 111.7,1 114.5,1.4 115.8,4.2 117.6,4.2 118,2 119,1 117.5,0.2 116.5,-1.5 116,-4 114.5,-4 111.5,-3.2 110,-1.5", "119.8,0.8 121,1.2 125,1.5 124.5,0.4 120.5,0.3 120,-1 121.5,-1 123.3,-0.9 121.5,-1.8 122.5,-4 121.8,-4.8 120.8,-3 120.4,-5.6 119.5,-5.4 118.9,-2.8 119.7,-0.8",
 "131,-0.8 134,-0.8 135,-3.3 137.5,-1.6 141,-2.6 141,-9.1 139,-8 138,-8.4 138,-5.5 135,-4.4 133,-4 132.8,-2.7 134,-2.2 133.5,-2.5 132,-2.2", "127.5,2 128.5,1 127.8,-0.8 127.5,0.5", "128,-3 130.8,-3.2 129,-3.5", "126,-3.2 127.2,-3.3 126.5,-3.8",
 "123.6,-10.3 125,-9 124.5,-10", "119.3,-9.5 120.8,-10 119.8,-9.8", "119.9,-8.5 123,-8.3 122,-8.8", "116,-8.4 119,-8.3 118,-9", "115,-8.2 115.6,-8.4 115,-8.7", "105.2,-1.9 106.8,-3 106,-3"],
"Timor-Leste": ["125,-9 127.2,-8.4 125,-9.5"],
"PNG": ["141,-2.6 144.5,-3.9 147.8,-6 147,-6.8 150.5,-10.5 147.5,-10 145,-7.8 141,-9.1", "148.5,-5.6 152,-4.2 150,-6.2"],
"Malaysia": ["100.1,6.4 101,5.7 102,6.2 103.4,4.5 104.2,1.4 103.3,1.4 101.3,2.9 100.4,5.5", "109.7,1.9 111,2.5 113,3.2 114,4.6 115.5,5.4 116.8,7 119.3,5.3 117.6,4.2 115.8,4.2 114.5,1.4 111.7,1"],
"Brunei": ["114.2,4.6 115,5 115,4.2"],
"Sri Lanka": ["80,9.7 81.8,7.5 81,6 80,6.2 79.7,8"],
"Australia": ["114,-22 113.5,-26 115,-30 115,-34.3 118,-35 124,-33 126,-32.3 131,-31.5 135,-34.7 137.8,-32.7 137,-35.5 138.5,-35 140,-38 144,-38.7 147,-38 150,-37.3 151,-34 153,-31 153.5,-27.5 150.8,-23 146.5,-19 145.5,-15 143.5,-14.3 142.5,-10.8 141.7,-13 141,-17 139.5,-17.5 136,-15.5 137,-12.2 135,-12 132.5,-11.3 130,-13 129.5,-15 127,-14 124,-16.5 122,-18 119,-20 116,-21", "144.7,-40.7 148,-40.8 148,-42.5 146.8,-43.5 145.5,-42.5"],
"New Zealand": ["172.8,-34.5 174.5,-36 175.5,-36.7 178.5,-37.7 177,-39.5 175.3,-41.6 174,-39.4 174.8,-38", "172.7,-40.5 174.3,-41.7 171,-44 170.7,-45.9 168.5,-46.6 166.5,-46 170,-43"],
"New Caledonia": ["164,-20.1 167,-22.3 165.5,-21.6"],
}
WATER = ["-72,10.8 -71.1,10.8 -71,9.2 -71.9,9.2", "-50.8,0 -48.6,-0.2 -48.6,-1 -50.5,-1"]

ROB_LAT = np.arange(0, 95, 5)
ROB_X = [1, .9986, .9954, .9900, .9822, .9730, .9600, .9427, .9216, .8962, .8679, .8350, .7986, .7597, .7186, .6732, .6213, .5722, .5322]
ROB_Y = [0, .0620, .1240, .1860, .2480, .3100, .3720, .4340, .4958, .5571, .6176, .6769, .7346, .7903, .8435, .8936, .9394, .9761, 1]


def robinson(lon, lat):
    a = np.abs(lat)
    return (0.8487 * np.radians(lon) * np.interp(a, ROB_LAT, ROB_X),
            1.3523 * np.sign(lat) * np.interp(a, ROB_LAT, ROB_Y))


def outline(text):
    pts = np.array([p.split(",") for p in text.split()], dtype=float)
    closed = np.vstack([pts, pts[:1]])
    lon, lat = [], []
    for a, b in zip(closed[:-1], closed[1:]):
        n = max(1, int(np.hypot(*(b - a)) / 2))
        t = np.arange(n) / n
        lon.extend(a[0] + (b[0] - a[0]) * t)
        lat.extend(a[1] + (b[1] - a[1]) * t)
    return robinson(np.array(lon), np.array(lat))


plt.rcParams["font.family"] = "DejaVu Sans"
fig = plt.figure(figsize=(15, 8.4), dpi=200)
ax = fig.add_axes([0, 0, 1, 1])
SCALE, CX, EQ = 507, 1502, 1010
ax.set_xlim(-CX / SCALE, (3000 - CX) / SCALE)
ax.set_ylim(-(1680 - EQ) / SCALE, EQ / SCALE)
ax.axis("off")

color_of = {name: c for names, c in zip(BINS, BIN_COLORS) for name in names}
for name, parts in SHAPES.items():
    for part in parts:
        x, y = outline(part)
        ax.fill(x, y, facecolor=color_of[name], edgecolor="white", linewidth=0.5, joinstyle="round")
for part in WATER:
    x, y = outline(part)
    ax.fill(x, y, facecolor="white", edgecolor="none")

handles = [Patch(facecolor=c, edgecolor="none", label=l) for l, c in zip(BIN_LABELS, BIN_COLORS)]
leg = fig.legend(handles=handles, title=LEGEND_TITLE, ncol=2, loc="lower left", bbox_to_anchor=(0.037, 0.0997),
                 frameon=False, fontsize=9, title_fontsize=9.4, labelcolor="#22303f", handlelength=2.0, handleheight=0.68,
                 handletextpad=0.84, columnspacing=2.11, labelspacing=0.49, borderpad=0, borderaxespad=0)
leg.get_title().set_color("#22303f")

fig.text(0.0498, 0.9472, TITLE, fontsize=22, fontweight="bold", color="#223044", va="center", ha="left")
fig.text(0.0498, 0.903, SUBTITLE, fontsize=11.5, color="#3f5160", va="center", ha="left")
fig.text(0.9698, 0.0175, FOOTER, fontsize=8.5, color="#5f6f78", va="bottom", ha="right")
fig.savefig("out.png", dpi=200, facecolor="white")
